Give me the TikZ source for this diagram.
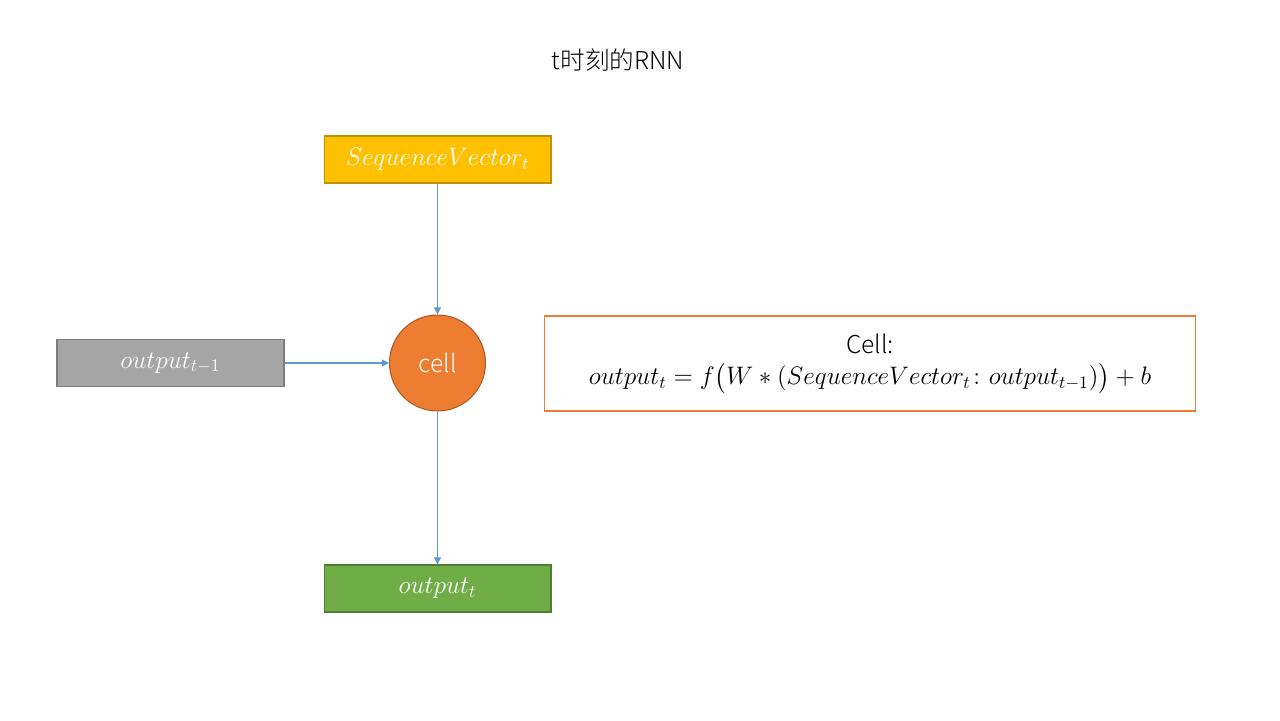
\documentclass[tikz,border=0pt]{standalone}
\usepackage{amsmath}
\usepackage{fontspec}
\IfFontExistsTF{Noto Sans CJK SC Light}
  {\setmainfont{Noto Sans CJK SC Light}}
  {\setmainfont{Noto Sans CJK SC}}
\usepackage{tikz}
\usetikzlibrary{arrows.meta}
\definecolor{seqfill}{HTML}{FFC000}
\definecolor{seqline}{HTML}{BF9000}
\definecolor{cellfill}{HTML}{ED7D31}
\definecolor{cellline}{HTML}{AE5A21}
\definecolor{prevfill}{HTML}{A5A5A5}
\definecolor{prevline}{HTML}{7C7C7C}
\definecolor{outfill}{HTML}{70AD47}
\definecolor{outline}{HTML}{507E32}
\definecolor{flow}{HTML}{5B9BD5}

\begin{document}
\begin{tikzpicture}[x=0.02cm, y=-0.02cm,
    box/.style={draw, line width=0.6pt, minimum width=4.54cm, minimum height=0.94cm,
      text=white, font=\fontsize{14}{16}\selectfont},
    flowline/.style={flow, line width=0.6pt, -{Triangle[length=4pt, width=4pt]}}]
  \useasboundingbox[fill=white] (0, 0) rectangle (1280, 720);

  \node[font=\fontsize{14}{16}\selectfont]
    (title) at (618, 60) {t时刻的RNN};

  \node[box, fill=seqfill, draw=seqline]
    (seq) at (437.5, 159.5) {$SequenceVector_t$};

  \node[draw=cellline, fill=cellfill, circle, line width=0.6pt, minimum size=1.92cm,
      text=white, font=\fontsize{14}{16}\selectfont]
    (cell) at (437.5, 363) {cell};

  \node[box, fill=prevfill, draw=prevline]
    (prev) at (170.5, 363) {$output_{t-1}$};

  \node[box, fill=outfill, draw=outline]
    (out) at (437.5, 588.5) {$output_t$};

  \node[draw=cellfill, line width=0.6pt, minimum width=13.04cm, minimum height=1.9cm,
      align=center, font=\fontsize{14}{18}\selectfont]
    (formula) at (870, 363.5)
    {Cell:\\ $output_t = f\big(W * (SequenceVector_t\colon output_{t-1})\big) + b$};

  \draw[flowline] (seq) edge (cell)
                  (prev) edge (cell)
                  (cell) edge (out);

\end{tikzpicture}
\end{document}
